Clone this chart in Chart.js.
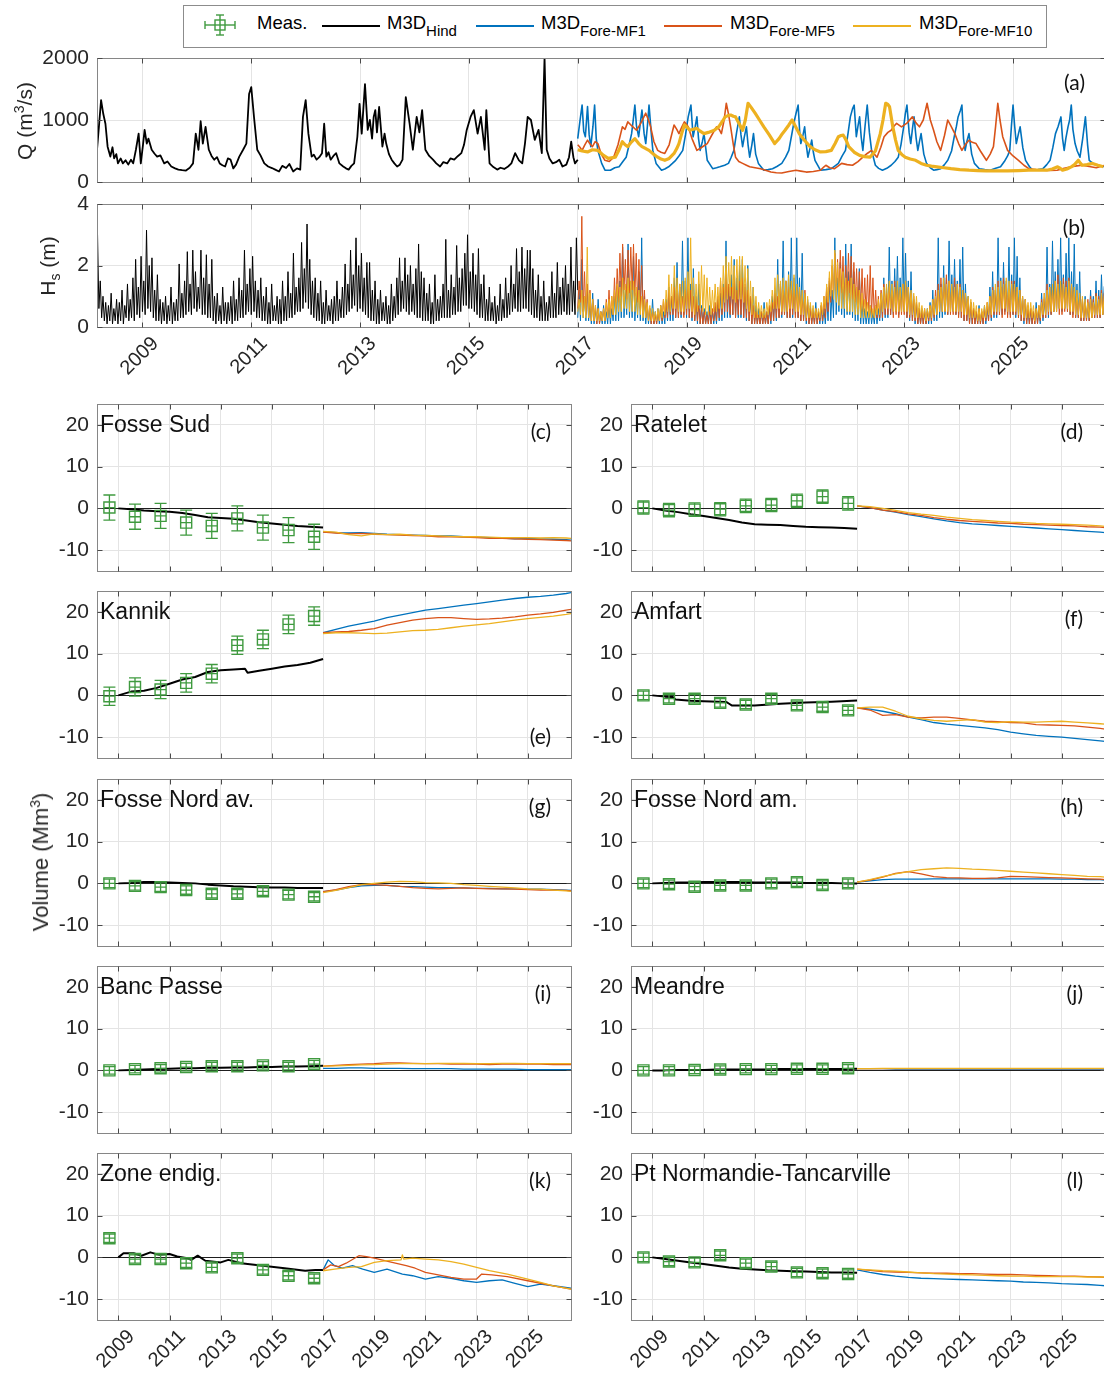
<!DOCTYPE html>
<html><head><meta charset="utf-8">
<script src="https://cdn.jsdelivr.net/npm/chart.js@4.4.1/dist/chart.umd.min.js"></script>
<style>
html,body{margin:0;padding:0;background:#fff;width:1104px;height:1373px;overflow:hidden;font-family:"Liberation Sans",Arial,sans-serif;color:#000}
.vt{position:absolute;transform:translate(-50%,-50%) rotate(-90deg);white-space:nowrap;color:#262626;font-size:21px}
.vt sup{font-size:14px;vertical-align:8px;line-height:0}
.vt sub{font-size:14px;vertical-align:-5px;line-height:0}
#legend{position:absolute;left:183px;top:5px;width:862px;height:41px;border:1.5px solid #8c8c8c;background:#fff}
.lg-line{position:absolute;height:2px;top:25px}
.lg-txt{position:absolute;top:13px;font-size:18.5px;line-height:20px;white-space:nowrap}
.lg-txt sub{font-size:15px;vertical-align:-7px;line-height:0}
.panel{position:absolute}
</style></head><body>

<div id="legend"></div>
<svg style="position:absolute;left:203px;top:13px" width="34" height="25">
  <g stroke="#3f9a3f" stroke-width="1.4" fill="none">
    <line x1="2" y1="12" x2="32" y2="12"/><line x1="2" y1="8" x2="2" y2="16"/><line x1="32" y1="8" x2="32" y2="16"/>
    <line x1="17" y1="2" x2="17" y2="22"/><line x1="13" y1="2" x2="21" y2="2"/><line x1="13" y1="22" x2="21" y2="22"/>
    <rect x="12" y="7" width="10" height="10"/>
  </g>
</svg>
<div class="lg-txt" style="left:257px">Meas.</div>
<div class="lg-line" style="left:322px;width:58px;background:#000"></div>
<div class="lg-txt" style="left:387px">M3D<sub>Hind</sub></div>
<div class="lg-line" style="left:476px;width:58px;background:#0072BD"></div>
<div class="lg-txt" style="left:541px">M3D<sub>Fore-MF1</sub></div>
<div class="lg-line" style="left:664px;width:58px;background:#D95319"></div>
<div class="lg-txt" style="left:730px">M3D<sub>Fore-MF5</sub></div>
<div class="lg-line" style="left:853px;width:58px;background:#EDB120"></div>
<div class="lg-txt" style="left:919px">M3D<sub>Fore-MF10</sub></div>

<script>
// ---------- axes ----------
const X_MIN = 2008.165, X_MAX = 2026.69;
const YEAR_TICKS = [2009, 2011, 2013, 2015, 2017, 2019, 2021, 2023, 2025];
const VOL_TICKS = [-10, 0, 10, 20];
const Q_TICKS = [0, 1000, 2000];
const HS_TICKS = [0, 2, 4];

// ---------- river discharge Q (m3/s): [year, value] ----------
const Q_HIND = [[2008.16,465],[2008.20,890],[2008.24,1320],[2008.28,1100],[2008.32,940],[2008.36,570],[2008.41,410],[2008.45,560],[2008.48,380],[2008.52,450],
[2008.55,300],[2008.60,380],[2008.64,300],[2008.69,350],[2008.74,280],[2008.79,360],[2008.83,300],[2008.88,520],[2008.93,780],[2008.97,300],
[2009.01,600],[2009.04,840],[2009.08,620],[2009.11,700],[2009.17,520],[2009.22,460],[2009.27,410],[2009.33,430],[2009.40,300],[2009.46,330],
[2009.53,250],[2009.60,220],[2009.66,200],[2009.73,190],[2009.80,185],[2009.87,230],[2009.93,300],[2009.98,780],[2010.03,520],[2010.07,980],
[2010.11,620],[2010.16,890],[2010.22,520],[2010.27,420],[2010.32,360],[2010.37,400],[2010.42,300],[2010.47,270],[2010.52,250],[2010.57,380],
[2010.62,360],[2010.67,220],[2010.72,280],[2010.78,410],[2010.85,520],[2010.91,620],[2010.96,1420],[2011.00,1530],[2011.05,1050],[2011.11,520],
[2011.17,430],[2011.24,300],[2011.31,250],[2011.38,225],[2011.44,200],[2011.51,170],[2011.57,260],[2011.64,225],[2011.70,290],[2011.77,170],
[2011.84,220],[2011.90,200],[2011.95,1050],[2012.00,1320],[2012.05,780],[2012.11,410],[2012.15,440],[2012.20,360],[2012.25,400],[2012.30,465],
[2012.34,940],[2012.38,410],[2012.42,480],[2012.46,360],[2012.51,420],[2012.56,465],[2012.62,300],[2012.69,250],[2012.74,220],[2012.79,200],
[2012.84,260],[2012.89,300],[2012.95,730],[2012.99,1260],[2013.03,780],[2013.09,1580],[2013.14,840],[2013.18,1000],[2013.22,700],[2013.25,1050],
[2013.28,1160],[2013.31,800],[2013.35,1210],[2013.41,570],[2013.45,780],[2013.48,620],[2013.53,450],[2013.58,360],[2013.63,300],[2013.68,250],
[2013.73,280],[2013.78,360],[2013.84,1370],[2013.91,940],[2013.97,520],[2014.04,1050],[2014.09,800],[2014.14,1160],[2014.20,520],[2014.27,420],
[2014.34,360],[2014.40,300],[2014.47,250],[2014.53,320],[2014.60,300],[2014.66,380],[2014.73,360],[2014.80,420],[2014.86,465],[2014.91,600],
[2014.96,840],[2015.03,1050],[2015.09,1160],[2015.16,780],[2015.22,1050],[2015.29,520],[2015.32,1160],[2015.38,300],[2015.45,240],[2015.52,200],
[2015.58,230],[2015.65,210],[2015.72,250],[2015.78,300],[2015.85,465],[2015.92,350],[2015.98,300],[2016.03,620],[2016.08,1050],[2016.14,1000],
[2016.21,680],[2016.28,840],[2016.34,465],[2016.39,2000],[2016.43,520],[2016.48,380],[2016.54,300],[2016.60,320],[2016.66,360],[2016.72,250],
[2016.79,280],[2016.84,400],[2016.88,650],[2016.92,400],[2016.95,300],[2017.00,360]];

const Q_MF1 = [[2017.00,700],[2017.04,980],[2017.08,1240],[2017.11,820],[2017.14,730],[2017.18,1215],[2017.21,760],[2017.24,570],[2017.28,900],[2017.31,1240],
[2017.34,700],[2017.37,510],[2017.44,300],[2017.50,190],[2017.60,190],[2017.68,230],[2017.76,245],[2017.83,330],[2017.89,400],[2017.95,620],
[2017.99,780],[2018.02,1000],[2018.05,1240],[2018.08,900],[2018.12,730],[2018.15,950],[2018.18,1160],[2018.22,780],[2018.25,620],[2018.28,900],
[2018.31,1240],[2018.35,800],[2018.38,510],[2018.44,300],[2018.54,190],[2018.60,210],[2018.67,245],[2018.74,300],[2018.80,350],[2018.86,420],
[2018.93,510],[2018.98,760],[2019.03,1050],[2019.08,1240],[2019.12,730],[2019.16,900],[2019.19,1050],[2019.22,700],[2019.25,510],[2019.29,650],
[2019.32,780],[2019.38,350],[2019.48,215],[2019.55,230],[2019.61,245],[2019.70,270],[2019.77,300],[2019.82,400],[2019.87,510],[2019.92,800],
[2019.97,1050],[2020.00,760],[2020.03,570],[2020.06,720],[2020.10,890],[2020.13,600],[2020.16,400],[2020.20,600],[2020.23,780],[2020.27,450],
[2020.32,300],[2020.42,190],[2020.50,200],[2020.58,215],[2020.66,250],[2020.75,300],[2020.82,400],[2020.88,510],[2020.93,750],[2020.97,945],
[2021.01,1100],[2021.05,1240],[2021.08,800],[2021.10,620],[2021.14,760],[2021.17,890],[2021.20,600],[2021.23,400],[2021.27,550],[2021.30,675],
[2021.33,480],[2021.36,350],[2021.46,190],[2021.56,200],[2021.66,215],[2021.73,260],[2021.79,300],[2021.86,420],[2021.92,510],[2021.97,800],
[2022.01,1050],[2022.05,1180],[2022.08,1240],[2022.12,730],[2022.15,900],[2022.18,1050],[2022.21,720],[2022.24,510],[2022.28,900],[2022.32,1240],
[2022.36,800],[2022.40,510],[2022.47,270],[2022.53,220],[2022.60,190],[2022.68,220],[2022.76,270],[2022.83,330],[2022.89,400],[2022.94,600],
[2022.99,890],[2023.02,1100],[2023.05,1240],[2023.09,800],[2023.12,620],[2023.15,850],[2023.18,1050],[2023.22,700],[2023.25,510],[2023.28,650],
[2023.31,780],[2023.36,450],[2023.41,300],[2023.48,230],[2023.54,190],[2023.60,200],[2023.67,215],[2023.74,280],[2023.80,350],[2023.87,500],
[2023.93,780],[2023.96,900],[2023.99,1050],[2024.03,1150],[2024.06,1240],[2024.09,700],[2024.12,510],[2024.15,650],[2024.19,780],[2024.24,450],
[2024.29,300],[2024.38,215],[2024.48,200],[2024.58,190],[2024.68,220],[2024.77,245],[2024.84,330],[2024.90,420],[2024.94,510],[2024.97,900],
[2025.00,1240],[2025.03,900],[2025.06,620],[2025.10,780],[2025.13,890],[2025.18,550],[2025.23,350],[2025.30,250],[2025.36,190],[2025.46,200],
[2025.55,215],[2025.62,280],[2025.68,350],[2025.73,550],[2025.78,780],[2025.83,900],[2025.88,1050],[2025.91,700],[2025.94,510],[2025.97,700],
[2026.01,890],[2026.04,1000],[2026.07,1240],[2026.10,850],[2026.14,620],[2026.18,500],[2026.23,400],[2026.28,700],[2026.33,1050],[2026.37,600],
[2026.40,350],[2026.47,300],[2026.53,270],[2026.60,260],[2026.69,245]];

const Q_MF5 = [[2017.00,600],[2017.04,560],[2017.08,510],[2017.13,600],[2017.18,675],[2017.22,620],[2017.27,570],[2017.32,650],[2017.37,620],[2017.43,450],
[2017.50,350],[2017.58,330],[2017.66,400],[2017.74,600],[2017.82,890],[2017.87,850],[2017.92,970],[2018.00,900],[2018.08,835],[2018.16,950],
[2018.25,1110],[2018.30,1000],[2018.34,890],[2018.40,650],[2018.47,510],[2018.53,480],[2018.60,460],[2018.68,600],[2018.77,920],[2018.82,850],
[2018.86,780],[2018.91,880],[2018.96,970],[2019.03,890],[2019.10,700],[2019.19,510],[2019.28,560],[2019.38,620],[2019.46,750],[2019.55,890],
[2019.60,850],[2019.64,780],[2019.69,1000],[2019.73,1270],[2019.77,1100],[2019.81,890],[2019.86,600],[2019.90,400],[2019.96,330],[2020.03,300],
[2020.10,270],[2020.16,245],[2020.26,230],[2020.36,215],[2020.45,190],[2020.55,160],[2020.65,150],[2020.75,145],[2020.88,170],[2021.01,190],
[2021.10,175],[2021.20,160],[2021.33,170],[2021.46,190],[2021.52,240],[2021.56,270],[2021.63,230],[2021.72,215],[2021.79,260],[2021.85,300],
[2021.95,280],[2022.05,270],[2022.15,330],[2022.24,400],[2022.32,460],[2022.40,510],[2022.45,450],[2022.50,400],[2022.57,560],[2022.63,730],
[2022.70,800],[2022.76,835],[2022.81,900],[2022.86,945],[2022.95,890],[2023.05,950],[2023.15,1050],[2023.22,950],[2023.28,890],[2023.35,1000],
[2023.42,1270],[2023.48,1000],[2023.54,835],[2023.60,650],[2023.67,510],[2023.74,750],[2023.80,1000],[2023.86,900],[2023.93,780],[2024.00,620],
[2024.06,510],[2024.12,600],[2024.19,675],[2024.25,640],[2024.32,620],[2024.40,500],[2024.51,350],[2024.58,450],[2024.64,570],[2024.68,900],
[2024.72,1270],[2024.76,1000],[2024.81,730],[2024.90,510],[2025.00,420],[2025.10,350],[2025.20,270],[2025.29,215],[2025.42,200],[2025.55,190],
[2025.68,185],[2025.81,190],[2025.94,220],[2026.07,245],[2026.17,260],[2026.27,270],[2026.40,250],[2026.53,230],[2026.69,270]];

const Q_MF10 = [[2017.00,520],[2017.08,500],[2017.18,485],[2017.27,520],[2017.37,510],[2017.46,440],[2017.56,380],[2017.62,390],[2017.69,400],[2017.76,520],
[2017.82,650],[2017.87,600],[2017.92,570],[2017.98,640],[2018.05,700],[2018.12,620],[2018.18,570],[2018.25,540],[2018.31,510],[2018.39,450],
[2018.47,400],[2018.53,370],[2018.60,350],[2018.68,380],[2018.77,460],[2018.82,540],[2018.86,620],[2018.91,780],[2018.96,920],[2019.01,880],
[2019.06,835],[2019.12,850],[2019.19,865],[2019.25,820],[2019.32,780],[2019.40,800],[2019.51,835],[2019.60,900],[2019.66,980],[2019.71,1050],
[2019.76,1070],[2019.81,1080],[2019.86,1060],[2019.90,1050],[2019.96,950],[2020.03,835],[2020.08,1000],[2020.13,1270],[2020.19,1200],[2020.26,1110],
[2020.34,1000],[2020.42,890],[2020.52,760],[2020.62,620],[2020.70,700],[2020.76,780],[2020.81,835],[2020.88,920],[2020.94,1000],[2021.00,900],
[2021.07,780],[2021.17,670],[2021.27,570],[2021.36,520],[2021.46,485],[2021.56,490],[2021.66,510],[2021.73,620],[2021.79,730],[2021.84,750],
[2021.88,755],[2021.93,680],[2021.98,570],[2022.08,480],[2022.18,430],[2022.27,410],[2022.37,400],[2022.47,500],[2022.56,780],[2022.61,1000],
[2022.66,1270],[2022.70,1250],[2022.73,1215],[2022.79,890],[2022.84,680],[2022.89,510],[2022.96,440],[2023.02,400],[2023.11,370],[2023.21,350],
[2023.31,300],[2023.41,270],[2023.50,255],[2023.60,245],[2023.73,230],[2023.86,215],[2024.02,200],[2024.19,190],[2024.35,185],[2024.51,180],
[2024.70,180],[2024.90,180],[2025.10,185],[2025.29,190],[2025.45,190],[2025.62,190],[2025.72,210],[2025.82,245],[2025.87,220],[2025.91,190],
[2025.99,210],[2026.07,245],[2026.13,280],[2026.20,350],[2026.24,300],[2026.27,270],[2026.36,280],[2026.46,300],[2026.56,270],[2026.66,245]];

// ---------- significant wave height Hs (m), sampled every HS_STEP years ----------
const HS_STEP = 0.025;
const HS_HIND_START = 2008.15;
const HS_HIND = [
1.8,3.0,0.6,1.5,0.3,1.0,0.2,0.8,0.1,0.7,0.2,1.1,0.1,0.6,0.2,0.9,0.1,0.8,0.2,1.2,0.1,0.7,0.3,1.4,0.2,0.9,0.3,1.6,0.2,2.2,0.4,1.3,0.3,2.3,0.5,1.5,0.4,3.15,0.6,2.0,
0.5,2.25,0.3,1.2,0.2,1.7,0.2,0.9,0.1,0.8,0.2,1.0,0.1,0.7,0.2,1.3,0.1,0.8,0.2,0.9,0.2,2.05,0.3,1.1,0.3,1.5,0.4,2.45,0.5,1.4,0.4,2.5,0.6,1.8,0.5,1.3,0.6,2.5,0.4,1.6,
0.4,2.35,0.3,1.4,0.3,2.2,0.2,1.0,0.1,1.1,0.2,0.7,0.1,1.3,0.2,0.8,0.1,0.8,0.2,1.0,0.1,1.5,0.2,0.9,0.2,1.6,0.3,1.2,0.3,2.5,0.4,1.4,0.5,1.9,0.4,2.3,0.5,1.5,0.3,1.2,
0.3,1.6,0.2,1.0,0.2,1.3,0.1,0.8,0.1,1.4,0.2,0.7,0.2,1.0,0.1,0.9,0.1,1.5,0.2,1.0,0.2,1.8,0.3,1.1,0.3,2.4,0.4,1.3,0.5,1.6,0.5,2.75,0.6,1.9,0.8,3.35,0.6,2.2,0.4,1.5,
0.3,1.6,0.2,1.1,0.2,1.5,0.1,0.8,0.1,1.2,0.2,0.7,0.2,0.9,0.1,1.0,0.2,1.5,0.2,0.9,0.3,1.3,0.3,2.05,0.4,1.4,0.5,2.5,0.6,1.7,0.7,2.9,0.5,2.0,0.6,2.4,0.5,1.6,0.4,2.1,
0.3,2.1,0.2,1.2,0.2,1.5,0.1,0.9,0.1,1.2,0.2,0.8,0.2,1.0,0.1,0.7,0.1,1.4,0.2,1.0,0.3,1.6,0.4,2.25,0.5,1.5,0.6,2.25,0.5,1.7,0.4,2.0,0.5,1.4,0.4,1.9,0.3,2.7,0.3,1.8,
0.2,1.6,0.2,1.1,0.2,1.4,0.1,0.8,0.1,1.7,0.2,0.9,0.2,1.0,0.3,1.4,0.3,2.85,0.3,1.2,0.3,1.7,0.4,1.3,0.4,2.65,0.5,1.6,0.5,1.9,0.7,2.4,0.7,3.0,0.6,1.8,0.6,2.4,0.5,1.7,
0.4,2.55,0.3,1.4,0.3,1.7,0.2,0.9,0.2,1.3,0.2,0.8,0.2,1.0,0.1,0.7,0.2,1.4,0.2,0.9,0.3,1.6,0.3,1.1,0.4,2.0,0.5,1.4,0.6,2.55,0.5,1.8,0.5,2.6,0.6,1.9,0.6,2.5,0.5,2.5,
0.4,1.9,0.3,1.2,0.3,1.7,0.2,1.0,0.2,1.5,0.2,0.8,0.2,1.0,0.3,1.8,0.3,1.1,0.3,2.1,0.4,1.3,0.4,1.6,0.5,2.0,0.4,1.4,0.4,2.6,0.5,1.5,0.4,2.9,1.2];
const HS_FORE_START = 2017.0;
const HS_MF1 = [
0.3,1.2,0.2,2.2,0.3,1.0,0.2,1.4,0.2,0.8,0.1,1.1,0.1,0.6,0.1,0.9,0.1,0.5,0.1,0.7,0.1,0.5,0.1,0.8,0.1,0.6,0.2,1.0,0.2,1.3,0.2,1.5,0.3,2.6,0.3,1.2,0.4,2.7,0.3,1.5,
0.3,2.3,0.2,1.1,0.3,1.8,0.2,2.9,0.2,1.0,0.1,0.8,0.1,0.6,0.1,0.9,0.1,0.5,0.1,0.6,0.1,0.7,0.1,0.5,0.1,0.9,0.2,1.3,0.2,1.0,0.2,1.6,0.3,2.1,0.3,1.3,0.3,2.8,0.4,1.5,
0.3,2.9,0.3,1.4,0.2,1.9,0.2,1.0,0.1,1.4,0.1,0.7,0.1,0.6,0.1,0.5,0.1,0.7,0.1,0.5,0.1,0.6,0.1,0.9,0.2,1.1,0.2,1.4,0.3,2.8,0.3,1.3,0.3,1.7,0.4,2.2,0.3,1.6,0.3,2.0,
0.3,2.2,0.3,1.3,0.2,2.0,0.2,1.0,0.1,1.3,0.1,0.7,0.1,0.6,0.1,0.5,0.1,0.8,0.1,0.5,0.1,0.6,0.1,1.0,0.2,1.2,0.2,2.2,0.3,1.4,0.3,2.8,0.4,1.5,0.3,1.8,0.3,2.9,0.3,1.6,
0.4,2.9,0.3,1.6,0.2,2.4,0.2,1.1,0.1,0.9,0.1,0.7,0.1,0.6,0.1,0.8,0.1,0.5,0.1,0.7,0.1,0.6,0.1,1.0,0.2,1.5,0.2,1.2,0.3,2.9,0.4,1.6,0.5,2.1,0.4,1.7,0.3,2.7,0.4,1.8,
0.4,2.7,0.3,1.8,0.2,1.3,0.2,1.9,0.1,0.8,0.1,0.6,0.1,0.5,0.1,0.7,0.1,0.5,0.1,0.7,0.1,0.6,0.2,1.1,0.2,1.6,0.3,1.3,0.3,2.6,0.4,1.5,0.4,1.9,0.5,2.3,0.4,1.6,0.5,2.9,
0.5,2.4,0.3,1.5,0.2,1.8,0.2,0.9,0.1,0.8,0.1,0.6,0.1,0.6,0.1,0.5,0.1,0.6,0.1,0.8,0.1,1.2,0.2,1.0,0.2,2.9,0.3,1.4,0.3,2.0,0.4,1.6,0.4,2.8,0.5,1.7,0.5,2.2,0.4,1.5,
0.4,2.2,0.3,2.6,0.2,1.4,0.2,1.0,0.1,0.8,0.1,0.6,0.1,0.5,0.1,0.7,0.1,0.5,0.1,0.7,0.1,0.6,0.2,1.3,0.2,1.8,0.3,1.2,0.3,2.9,0.4,1.6,0.4,2.1,0.5,1.5,0.4,2.6,0.4,1.7,
0.4,2.9,0.3,2.3,0.3,1.6,0.2,1.0,0.1,0.9,0.1,0.6,0.1,0.6,0.1,0.5,0.1,0.8,0.1,0.6,0.1,1.1,0.2,0.9,0.3,2.6,0.3,1.4,0.4,2.8,0.5,1.8,0.5,2.2,0.6,2.9,0.5,1.7,0.6,2.4,
0.5,2.9,0.4,1.8,0.4,2.7,0.3,1.4,0.3,1.8,0.2,0.9,0.2,1.0,0.2,0.8,0.2,1.2,0.3,1.0,0.3,1.5,0.3,1.2,0.3,1.7,0.4,1.3,1.5];
const HS_MF5 = [
0.6,1.5,0.8,3.6,0.5,1.8,0.4,1.4,0.3,1.2,0.2,0.9,0.2,0.7,0.1,0.6,0.1,0.5,0.2,0.6,0.2,0.9,0.3,1.2,0.3,1.0,0.4,1.6,0.6,1.9,0.8,2.4,1.0,2.7,1.2,2.2,0.9,2.5,1.1,2.6,
1.2,2.7,1.0,2.4,0.8,2.2,0.6,2.0,0.4,1.2,0.3,0.9,0.2,0.6,0.1,0.5,0.1,0.4,0.1,0.5,0.2,0.7,0.2,0.9,0.3,0.8,0.3,1.2,0.4,1.0,0.4,1.3,0.3,1.1,0.3,1.4,0.4,1.0,0.3,1.2,
0.4,1.4,0.3,1.2,0.3,1.0,0.2,0.9,0.2,0.7,0.1,0.6,0.1,0.5,0.1,0.4,0.1,0.5,0.1,0.6,0.2,0.8,0.2,1.0,0.3,1.5,0.4,1.3,0.5,1.8,0.5,1.4,0.4,1.3,0.4,1.6,0.3,1.2,0.4,1.5,
0.4,1.6,0.3,1.4,0.3,1.2,0.2,1.0,0.1,0.7,0.1,0.5,0.1,0.4,0.1,0.5,0.1,0.4,0.1,0.5,0.1,0.7,0.2,0.8,0.2,1.1,0.3,1.0,0.3,1.4,0.4,1.2,0.4,1.5,0.3,1.3,0.3,1.2,0.4,1.4,
0.3,1.3,0.3,1.2,0.2,1.0,0.2,1.2,0.2,0.8,0.1,0.6,0.1,0.5,0.1,0.6,0.1,0.5,0.2,0.7,0.2,1.0,0.3,1.3,0.5,1.6,0.8,2.0,1.0,2.4,1.2,2.2,1.0,2.5,1.1,2.3,0.9,2.0,1.0,2.4,
1.1,2.3,0.9,2.1,0.8,1.9,0.6,1.8,0.5,1.9,0.5,1.6,0.4,1.7,0.4,2.0,0.4,1.6,0.3,1.2,0.3,1.0,0.3,1.2,0.3,1.4,0.4,1.1,0.4,1.3,0.4,1.2,0.3,1.5,0.4,1.3,0.3,1.2,0.4,1.4,
0.4,1.5,0.3,1.3,0.3,1.1,0.2,1.0,0.2,0.8,0.1,0.6,0.1,0.5,0.1,0.6,0.1,0.5,0.2,0.7,0.2,0.9,0.3,1.2,0.4,1.4,0.5,1.6,0.5,1.4,0.5,1.7,0.4,1.5,0.4,1.3,0.4,1.6,0.4,1.4,
0.3,1.4,0.3,1.2,0.2,1.1,0.2,0.9,0.1,0.8,0.1,0.6,0.1,0.5,0.1,0.6,0.1,0.5,0.1,0.6,0.2,0.8,0.2,1.0,0.3,1.3,0.4,1.2,0.4,1.5,0.4,1.3,0.3,1.6,0.4,1.4,0.3,1.2,0.3,1.5,
0.4,1.5,0.4,1.3,0.3,1.2,0.2,1.0,0.2,0.9,0.1,0.7,0.1,0.6,0.1,0.5,0.1,0.6,0.1,0.7,0.2,0.9,0.3,1.1,0.3,1.4,0.4,1.3,0.4,1.2,0.5,1.5,0.5,1.7,0.4,1.4,0.4,1.6,0.5,1.5,
0.5,1.6,0.4,1.4,0.3,1.2,0.3,1.1,0.3,1.0,0.2,0.9,0.2,0.8,0.2,0.9,0.2,1.0,0.3,0.9,0.3,1.1,0.3,1.0,0.3,1.2,0.4,1.1,1.2];
const HS_MF10 = [
0.5,0.9,0.4,1.2,0.3,1.0,0.3,2.6,0.3,1.1,0.2,0.9,0.2,0.7,0.2,0.6,0.2,0.5,0.2,0.6,0.2,0.8,0.3,0.9,0.3,1.0,0.4,1.2,0.4,1.4,0.5,1.3,0.5,1.6,0.6,1.4,0.6,1.6,0.5,1.5,
0.5,1.5,0.5,1.3,0.4,1.2,0.4,1.0,0.3,0.9,0.3,0.8,0.2,0.7,0.2,0.6,0.2,0.5,0.2,0.6,0.2,0.7,0.3,0.9,0.4,1.2,0.5,1.7,0.5,1.4,0.6,2.0,0.6,1.6,0.5,1.4,0.5,1.5,0.5,1.6,
0.6,1.8,0.6,2.9,0.5,1.6,0.4,1.4,0.5,1.8,0.6,2.0,0.5,1.7,0.4,1.6,0.4,1.3,0.4,1.2,0.5,1.4,0.5,1.3,0.6,1.6,0.6,2.0,0.8,2.3,0.9,2.1,1.0,2.3,0.9,2.0,0.8,2.2,0.9,2.3,
0.9,2.3,0.8,2.0,0.6,1.9,0.5,1.5,0.4,1.3,0.3,1.0,0.3,0.8,0.3,0.7,0.3,0.6,0.3,0.8,0.4,0.9,0.5,1.2,0.6,1.6,0.6,1.7,0.6,1.5,0.5,1.6,0.5,1.5,0.5,1.7,0.6,1.5,0.6,1.7,
0.5,1.4,0.5,1.3,0.4,1.2,0.4,1.1,0.3,1.0,0.3,0.8,0.3,0.7,0.3,0.6,0.3,0.6,0.3,0.8,0.4,1.0,0.6,1.4,0.8,1.8,1.0,2.2,0.9,2.5,0.8,2.1,0.7,1.9,0.6,1.8,0.6,1.6,0.5,1.5,
0.5,1.6,0.5,1.4,0.4,1.3,0.4,1.2,0.3,1.1,0.3,0.9,0.3,0.8,0.3,0.7,0.3,0.6,0.3,0.7,0.4,0.9,0.4,1.1,0.5,1.3,0.6,1.4,0.6,1.5,0.6,1.4,0.5,1.3,0.5,1.5,0.5,1.3,0.5,1.4,
0.5,1.5,0.5,1.3,0.4,1.2,0.4,1.1,0.3,1.0,0.3,0.8,0.3,0.7,0.3,0.6,0.2,0.6,0.3,0.7,0.3,0.9,0.4,1.0,0.4,1.2,0.5,1.3,0.5,1.6,0.5,1.4,0.5,1.5,0.5,1.4,0.5,1.3,0.5,1.4,
0.5,1.3,0.5,1.2,0.4,1.1,0.4,1.0,0.3,0.9,0.3,0.8,0.3,0.7,0.2,0.6,0.2,0.6,0.3,0.7,0.3,0.8,0.4,1.0,0.4,1.2,0.5,1.4,0.5,1.3,0.5,1.5,0.6,1.4,0.6,1.6,0.5,1.5,0.5,1.4,
0.5,1.4,0.5,1.3,0.4,1.2,0.4,1.0,0.3,0.9,0.3,0.8,0.3,0.8,0.3,0.7,0.2,0.6,0.3,0.7,0.3,0.8,0.4,1.1,0.4,1.2,0.5,1.3,0.5,1.4,0.5,1.5,0.5,1.4,0.6,1.5,0.6,1.4,0.6,1.3,
0.6,1.5,0.5,1.4,0.5,1.3,0.4,1.2,0.4,1.1,0.3,1.0,0.3,0.9,0.3,0.8,0.3,0.9,0.3,0.8,0.4,1.0,0.4,0.9,0.4,1.1,0.4,1.0,1.2];

// ---------- sediment volume change (Mm3) ----------
const MEAS_T = [2008.65, 2009.65, 2010.65, 2011.65, 2012.65, 2013.65, 2014.65, 2015.65, 2016.65];
const HIND_T = [2009,2009.5,2010,2010.5,2011,2011.5,2012,2012.5,2013,2013.5,2014,2014.5,2015,2015.5,2016,2016.5,2017];
const FORE_T = [2017,2017.5,2018,2018.5,2019,2019.5,2020,2020.5,2021,2021.5,2022,2022.5,2023,2023.5,2024,2024.5,2025,2025.5,2026,2026.5,2026.7];

const FOSSE_SUD_MEAS = [0.2,-2.0,-1.8,-3.4,-4.2,-2.4,-4.6,-5.2,-6.8];
const FOSSE_SUD_HIND = [0,-0.2,-0.5,-0.7,-0.8,-1.1,-1.6,-2.1,-2.3,-2.5,-2.9,-3.3,-3.6,-3.9,-4.2,-4.4,-4.6];
const FOSSE_SUD_MF1 = [-5.6,-5.8,-5.9,-5.8,-6.0,-6.2,-6.3,-6.4,-6.5,-6.6,-6.6,-6.8,-6.9,-7.0,-7.1,-7.3,-7.2,-7.3,-7.4,-7.5,-7.6];
const FOSSE_SUD_MF5 = [-5.7,-5.9,-6.1,-6.0,-6.2,-6.3,-6.4,-6.5,-6.6,-6.8,-6.8,-6.9,-7.0,-7.2,-7.2,-7.3,-7.4,-7.5,-7.6,-7.7,-7.8];
const FOSSE_SUD_MF10 = [-5.5,-5.7,-6.3,-6.6,-6.1,-6.3,-6.2,-6.4,-6.5,-6.6,-6.7,-6.8,-6.8,-6.9,-7.0,-7.0,-7.0,-7.1,-7.0,-7.1,-7.2];

const RATELET_MEAS = [0.2,-0.4,-0.3,-0.2,0.6,0.8,1.8,2.8,1.2];
const RATELET_HIND = [0,-0.5,-0.9,-1.4,-1.8,-2.3,-2.8,-3.4,-3.8,-3.9,-4.0,-4.2,-4.4,-4.5,-4.6,-4.7,-4.9];
const RATELET_MF1 = [0.6,0.2,-0.4,-0.9,-1.5,-2.0,-2.5,-3.0,-3.4,-3.7,-3.9,-4.1,-4.3,-4.5,-4.7,-4.9,-5.1,-5.3,-5.5,-5.7,-5.8];
const RATELET_MF5 = [0.6,0.2,-0.4,-0.8,-1.3,-1.7,-2.2,-2.6,-2.9,-3.1,-3.3,-3.5,-3.6,-3.8,-3.9,-4.0,-4.1,-4.2,-4.4,-4.5,-4.6];
const RATELET_MF10 = [0.6,0.4,0.0,-0.5,-1.0,-1.4,-1.7,-2.1,-2.4,-2.7,-2.9,-3.1,-3.3,-3.4,-3.6,-3.7,-3.8,-3.9,-4.0,-4.2,-4.3];

const KANNIK_MEAS = [-0.2,2.0,1.4,3.0,5.2,12.0,13.4,17.0,19.0];
const KANNIK_HIND = [[2009.0,0],[2009.5,0.9],[2010.0,1.1],[2010.5,1.8],[2011.0,2.8],[2011.5,3.8],[2012.0,4.4],[2012.5,5.6],[2013.0,6.0],[2013.5,6.2],[2013.95,6.4],[2014.05,5.4],[2014.5,5.9],[2015.0,6.4],[2015.5,6.9],[2016.0,7.3],[2016.5,7.8],[2017.0,8.7]];
const KANNIK_MF1 = [15.0,15.8,16.6,17.2,17.8,18.6,19.2,19.8,20.4,20.8,21.2,21.6,22.0,22.4,22.8,23.2,23.5,23.7,24.0,24.4,24.6];
const KANNIK_MF5 = [15.0,15.2,15.3,15.6,16.0,16.8,17.4,18.0,18.4,18.6,18.6,18.4,18.2,18.3,18.5,18.8,19.2,19.5,19.9,20.4,20.6];
const KANNIK_MF10 = [14.8,15.0,15.0,14.9,14.8,14.9,15.2,15.5,15.6,15.8,16.2,16.6,16.9,17.2,17.6,18.0,18.4,18.7,19.0,19.4,19.6];

const AMFART_MEAS = [0,-0.8,-0.8,-1.8,-2.2,-0.8,-2.4,-2.8,-3.6];
const AMFART_HIND = [[2009.0,0],[2009.5,-0.3],[2009.8,-0.4],[2009.9,-1.0],[2010.5,-1.3],[2011.0,-1.4],[2011.9,-1.6],[2012.0,-2.0],[2012.1,-2.4],[2013.0,-2.4],[2014.0,-2.0],[2015.0,-1.7],[2016.0,-1.5],[2017.0,-1.2]];
const AMFART_MF1 = [-3.0,-3.3,-3.8,-4.4,-5.2,-5.8,-6.5,-6.9,-7.2,-7.5,-7.8,-8.2,-8.8,-9.2,-9.6,-9.8,-10.0,-10.3,-10.6,-10.9,-11.0];
const AMFART_MF5 = [-3.0,-3.5,-4.8,-4.6,-5.2,-5.4,-5.2,-5.2,-5.5,-5.9,-6.2,-6.3,-6.5,-6.6,-7.0,-7.1,-7.2,-7.3,-7.6,-7.9,-8.1];
const AMFART_MF10 = [-3.0,-2.8,-2.8,-3.8,-5.0,-5.6,-6.0,-6.2,-6.0,-5.8,-6.4,-6.5,-6.3,-6.4,-6.4,-6.3,-6.2,-6.4,-6.6,-6.8,-6.9];

const FN_AV_MEAS = [0,-0.6,-0.9,-1.6,-2.5,-2.5,-1.9,-2.7,-3.2];
const FN_AV_HIND = [0,0.1,0.3,0.3,0.2,0.1,0.0,-0.3,-0.5,-0.7,-0.8,-0.9,-1.0,-1.0,-1.1,-1.1,-1.1];
const FN_AV_MF1 = [-2.0,-1.6,-1.0,-0.6,-0.5,-0.5,-0.7,-0.8,-0.9,-1.0,-1.0,-1.1,-1.2,-1.2,-1.3,-1.3,-1.4,-1.4,-1.5,-1.6,-1.7];
const FN_AV_MF5 = [-2.0,-1.5,-0.8,-0.3,-0.3,-0.5,-0.7,-1.0,-1.2,-1.3,-1.2,-1.1,-1.2,-1.3,-1.3,-1.4,-1.5,-1.6,-1.6,-1.7,-1.8];
const FN_AV_MF10 = [-2.2,-1.7,-1.0,-0.3,0.0,0.3,0.5,0.4,0.2,0.1,0.0,-0.3,-0.5,-0.7,-0.9,-1.1,-1.3,-1.4,-1.6,-1.8,-1.9];

const FN_AM_MEAS = [0,-0.2,-0.8,-0.5,-0.5,0,0.3,-0.4,0];
const FN_AM_HIND = [0,0.1,0.2,0.2,0.3,0.3,0.3,0.3,0.2,0.2,0.2,0.2,0.1,0.1,0.1,0.0,0.0];
const FN_AM_MF1 = [0.3,0.6,0.9,1.0,1.0,1.0,1.1,1.1,1.1,1.1,1.1,1.1,1.1,1.1,1.1,1.1,1.0,1.0,0.9,0.9,0.8];
const FN_AM_MF5 = [0.3,0.8,1.5,2.4,2.8,2.3,1.6,1.4,1.3,1.2,1.2,1.3,1.7,1.6,1.5,1.4,1.3,1.2,1.1,1.0,0.9];
const FN_AM_MF10 = [0.3,0.9,1.6,2.3,2.8,3.3,3.5,3.7,3.6,3.4,3.3,3.1,2.9,2.7,2.5,2.3,2.1,1.9,1.7,1.6,1.5];

const BANC_MEAS = [0,0.3,0.5,0.8,1.0,1.0,1.2,1.0,1.5];
const BANC_HIND = [0,0.1,0.2,0.3,0.4,0.5,0.5,0.6,0.6,0.7,0.7,0.8,0.8,0.9,0.9,1.0,1.1];
const BANC_MF1 = [0.5,0.5,0.6,0.6,0.5,0.5,0.5,0.4,0.4,0.4,0.4,0.3,0.3,0.3,0.3,0.3,0.2,0.2,0.2,0.2,0.2];
const BANC_MF5 = [1.0,1.2,1.4,1.5,1.6,1.8,1.8,1.7,1.6,1.6,1.5,1.5,1.5,1.4,1.5,1.5,1.5,1.5,1.4,1.4,1.4];
const BANC_MF10 = [1.0,1.1,1.2,1.3,1.4,1.5,1.6,1.6,1.6,1.7,1.7,1.7,1.6,1.6,1.7,1.7,1.6,1.6,1.6,1.6,1.6];

const MEANDRE_MEAS = [0,0,0.1,0.2,0.3,0.3,0.4,0.4,0.5];
const MEANDRE_HIND = [0,0,0.1,0.1,0.1,0.2,0.2,0.2,0.2,0.2,0.3,0.3,0.3,0.3,0.3,0.3,0.4];
const MEANDRE_MF1 = [0.4,0.4,0.4,0.3,0.3,0.3,0.3,0.3,0.3,0.3,0.3,0.3,0.3,0.3,0.3,0.3,0.3,0.3,0.3,0.3,0.3];
const MEANDRE_MF5 = [0.4,0.4,0.4,0.4,0.4,0.4,0.4,0.4,0.4,0.4,0.4,0.4,0.4,0.4,0.4,0.4,0.4,0.4,0.4,0.4,0.4];
const MEANDRE_MF10 = [0.4,0.4,0.5,0.5,0.5,0.5,0.5,0.5,0.5,0.5,0.5,0.5,0.5,0.5,0.5,0.5,0.5,0.5,0.5,0.5,0.5];

const ZONE_MEAS = [4.6,-0.4,-0.4,-1.4,-2.4,-0.2,-3.0,-4.4,-5.0];
const ZONE_HIND = [[2009.0,0],[2009.2,1.0],[2009.6,1.0],[2009.9,0.4],[2010.25,1.2],[2010.6,0.6],[2011.0,0.8],[2011.3,0.2],[2011.7,-0.2],[2011.85,-0.6],[2012.1,0.4],[2012.4,-0.8],[2013.0,-1.2],[2013.3,-0.6],[2013.8,-1.4],[2014.65,-2.0],[2015.5,-2.6],[2016.3,-3.2],[2016.7,-3.0],[2017.0,-3.0]];
const ZONE_MF1 = [[2017.0,-3.0],[2017.2,-0.6],[2017.45,-2.0],[2017.75,-2.6],[2018.15,-2.0],[2018.55,-2.8],[2019.0,-3.6],[2019.5,-2.8],[2020.1,-4.0],[2020.5,-4.4],[2021.0,-5.2],[2021.5,-4.6],[2022.0,-5.0],[2022.5,-5.6],[2023.0,-6.0],[2023.5,-5.6],[2024.0,-5.4],[2024.5,-6.2],[2025.0,-7.0],[2025.5,-6.4],[2026.0,-6.8],[2026.7,-7.4]];
const ZONE_MF5 = [[2017.0,-3.0],[2017.3,-1.8],[2017.6,-2.2],[2017.9,-1.4],[2018.4,0.4],[2018.7,0.2],[2019.0,-0.2],[2019.7,-1.2],[2020.25,-2.0],[2020.6,-2.6],[2021.0,-3.6],[2021.5,-4.2],[2022.0,-4.8],[2022.5,-5.2],[2023.0,-5.2],[2023.2,-4.0],[2023.6,-4.2],[2024.2,-4.6],[2025.0,-5.6],[2025.5,-6.2],[2026.0,-6.8],[2026.7,-7.6]];
const ZONE_MF10 = [[2017.0,-3.2],[2017.45,-2.8],[2018.0,-2.4],[2018.5,-2.2],[2019.0,-1.2],[2019.5,-0.8],[2020.05,-0.6],[2020.1,0.6],[2020.15,-0.4],[2020.5,-0.2],[2021.0,-0.4],[2021.5,-0.6],[2022.0,-1.0],[2022.5,-1.6],[2023.0,-2.4],[2023.5,-3.2],[2024.2,-4.0],[2025.0,-5.2],[2025.5,-6.0],[2026.0,-6.8],[2026.7,-7.6]];

const PNT_MEAS = [0,-1.0,-1.2,0.5,-1.4,-2.2,-3.6,-3.8,-4.0];
const PNT_HIND = [0,-0.4,-0.8,-1.2,-1.6,-2.0,-2.4,-2.7,-2.9,-3.1,-3.2,-3.3,-3.4,-3.5,-3.6,-3.6,-3.7];
const PNT_MF1 = [-3.0,-3.6,-4.1,-4.5,-4.8,-5.0,-5.1,-5.2,-5.3,-5.4,-5.5,-5.6,-5.7,-5.9,-6.0,-6.1,-6.3,-6.4,-6.5,-6.7,-6.8];
const PNT_MF5 = [-2.8,-3.1,-3.4,-3.5,-3.6,-3.7,-3.8,-3.8,-3.9,-3.9,-4.0,-4.1,-4.1,-4.2,-4.3,-4.4,-4.5,-4.5,-4.6,-4.7,-4.8];
const PNT_MF10 = [-2.8,-3.0,-3.2,-3.3,-3.5,-3.7,-3.9,-4.0,-4.1,-4.2,-4.3,-4.4,-4.5,-4.5,-4.6,-4.6,-4.6,-4.6,-4.7,-4.7,-4.7];

// ---------- styling ----------
const C_HIND = '#000000', C_MF1 = '#0072BD', C_MF5 = '#D95319', C_MF10 = '#EDB120', C_MEAS = '#3f9a3f';
const FONT = '"Liberation Sans", Arial, sans-serif';
const TXT = '#262626', GRID = '#e4e4e4';

function pts(series, grid) {
  if (grid) return grid.map((t, i) => ({x: t, y: series[i]}));
  return series.map(p => ({x: p[0], y: p[1]}));
}
function sampled(values, start, step) {
  return values.map((v, i) => ({x: start + i * step, y: v}));
}
function line(data, color, width, order) {
  return {data, borderColor: color, backgroundColor: color, borderWidth: width, showLine: true,
          pointRadius: 0, order, borderJoinStyle: 'round'};
}

const framePlugin = {
  id: 'frame',
  beforeDatasetsDraw(chart, _a, opt) {
    if (!opt.zero) return;
    const {ctx, chartArea: a} = chart;
    const py = Math.round(chart.scales.y.getPixelForValue(0)) + 0.5;
    ctx.save();
    ctx.strokeStyle = '#1e1e1e'; ctx.lineWidth = 1;
    ctx.beginPath(); ctx.moveTo(a.left, py); ctx.lineTo(a.right, py); ctx.stroke();
    ctx.restore();
  },
  afterDatasetsDraw(chart, _a, opt) {
    const {ctx, chartArea: a, scales: {x, y}} = chart;
    ctx.save();
    if (opt.meas) {
      ctx.strokeStyle = C_MEAS; ctx.lineWidth = 1.3;
      opt.meas.t.forEach((t, i) => {
        const v = opt.meas.v[i], e = opt.meas.e;
        const px = x.getPixelForValue(t), py = y.getPixelForValue(v);
        const pHi = y.getPixelForValue(v + e), pLo = y.getPixelForValue(v - e);
        ctx.beginPath();
        ctx.moveTo(px, pLo); ctx.lineTo(px, pHi);
        ctx.moveTo(px - 6, pLo); ctx.lineTo(px + 6, pLo);
        ctx.moveTo(px - 6, pHi); ctx.lineTo(px + 6, pHi);
        ctx.moveTo(px - 5.5, py); ctx.lineTo(px + 5.5, py);
        ctx.stroke();
      });
    }
    const L = Math.round(a.left) + 0.5, T = Math.round(a.top) + 0.5;
    const R = Math.round(a.right) + 0.5, B = Math.round(a.bottom) + 0.5;
    ctx.strokeStyle = '#868686'; ctx.lineWidth = 1;
    ctx.strokeRect(L, T, R - L, B - T);
    ctx.strokeStyle = '#4a4a4a';
    ctx.beginPath();
    x.ticks.forEach(tk => {
      const px = Math.round(x.getPixelForValue(tk.value)) + 0.5;
      ctx.moveTo(px, B); ctx.lineTo(px, B - 5); ctx.moveTo(px, T); ctx.lineTo(px, T + 5);
    });
    y.ticks.forEach(tk => {
      const py = Math.round(y.getPixelForValue(tk.value)) + 0.5;
      ctx.moveTo(L, py); ctx.lineTo(L + 5, py); ctx.moveTo(R, py); ctx.lineTo(R - 5, py);
    });
    ctx.stroke();
    if (opt.title) {
      ctx.fillStyle = '#111';
      ctx.font = '23px ' + FONT;
      ctx.textAlign = 'left'; ctx.textBaseline = 'middle';
      ctx.fillText(opt.title, a.left + 3, y.getPixelForValue(opt.titleAt) + 1);
    }
    if (opt.tag) {
      ctx.fillStyle = '#111';
      ctx.font = '21px Lato, "Open Sans", sans-serif';
      ctx.textAlign = 'right'; ctx.textBaseline = 'middle';
      ctx.fillText(opt.tag, opt.tagRight, y.getPixelForValue(opt.tagAt));
    }
    ctx.restore();
  }
};

// box: plot-area rectangle in page pixels
function panel(box, datasets, o) {
  const padT = o.padT || 3, padR = 3, padB = o.xh ? 0 : (o.padB || 3);
  const W = box.w + o.yw + padR, H = box.h + padT + (o.xh || 0) + padB;
  const div = document.createElement('div');
  div.className = 'panel';
  div.style.left = (box.left - o.yw) + 'px';
  div.style.top = (box.top - padT) + 'px';
  div.style.width = W + 'px'; div.style.height = H + 'px';
  const cv = document.createElement('canvas');
  cv.width = W; cv.height = H;
  div.appendChild(cv);
  document.body.appendChild(div);
  o.frame.tagRight = o.yw + box.w - (o.tagInset || 20);
  new Chart(cv, {
    type: 'scatter',
    data: {datasets},
    plugins: [framePlugin],
    options: {
      responsive: false, animation: false, devicePixelRatio: 1, events: [],
      layout: {autoPadding: false, padding: {left: 0, top: padT, right: padR, bottom: padB}},
      plugins: {legend: {display: false}, tooltip: {enabled: false}, frame: o.frame},
      scales: {
        x: {
          type: 'linear', min: X_MIN, max: X_MAX,
          afterBuildTicks: s => { s.ticks = YEAR_TICKS.map(v => ({value: v})); },
          afterFit: s => { s.height = o.xh || 0; s.paddingLeft = 0; s.paddingRight = 0; },
          grid: {color: GRID, drawTicks: false, lineWidth: 1},
          border: {display: false},
          ticks: {display: !!o.xh, autoSkip: false, minRotation: 45, maxRotation: 45,
                  font: {family: FONT, size: 20}, color: TXT, padding: 5, labelOffset: 13,
                  callback: v => String(v)}
        },
        y: {
          type: 'linear', min: o.ymin, max: o.ymax,
          afterBuildTicks: s => { s.ticks = o.yticks.map(v => ({value: v})); },
          afterFit: s => { s.width = o.yw; s.paddingTop = 0; s.paddingBottom = 0; },
          grid: {color: GRID, drawTicks: false, lineWidth: 1},
          border: {display: false},
          ticks: {font: {family: FONT, size: 21}, color: TXT, padding: 8, callback: v => String(v)}
        }
      }
    }
  });
}

// ---------- (a) discharge ----------
panel({left: 97, top: 58, w: 1008, h: 124}, [
  line(pts(Q_HIND), C_HIND, 1.8, 4),
  line(pts(Q_MF1), C_MF1, 1.6, 3),
  line(pts(Q_MF5), C_MF5, 1.6, 2),
  line(pts(Q_MF10), C_MF10, 3.2, 1)
], {yw: 70, ymin: 0, ymax: 2000, yticks: Q_TICKS, padT: 14, padB: 14, tagInset: 20,
    frame: {tag: '(a)', tagAt: 1600}});

// ---------- (b) wave height ----------
panel({left: 97, top: 204, w: 1008, h: 123}, [
  line(sampled(HS_HIND, HS_HIND_START, HS_STEP), C_HIND, 1, 4),
  line(sampled(HS_MF1, HS_FORE_START, HS_STEP), C_MF1, 1, 3),
  line(sampled(HS_MF5, HS_FORE_START, HS_STEP), C_MF5, 1, 2),
  line(sampled(HS_MF10, HS_FORE_START, HS_STEP), C_MF10, 1, 1)
], {yw: 70, ymin: 0, ymax: 4, yticks: HS_TICKS, padT: 14, xh: 60, tagInset: 20,
    frame: {tag: '(b)', tagAt: 3.2}});

// ---------- (c)-(l) volumes ----------
const ROW_TOP = [404, 591, 779, 966, 1153];
const COL_LEFT = [97, 631];
const SITES = [
  {name: 'Fosse Sud', tag: '(c)', meas: FOSSE_SUD_MEAS, err: 3.0, hind: FOSSE_SUD_HIND, mf1: FOSSE_SUD_MF1, mf5: FOSSE_SUD_MF5, mf10: FOSSE_SUD_MF10},
  {name: 'Ratelet', tag: '(d)', meas: RATELET_MEAS, err: 1.6, hind: RATELET_HIND, mf1: RATELET_MF1, mf5: RATELET_MF5, mf10: RATELET_MF10},
  {name: 'Kannik', tag: '(e)', tagLow: true, meas: KANNIK_MEAS, err: 2.2, hind: KANNIK_HIND, mf1: KANNIK_MF1, mf5: KANNIK_MF5, mf10: KANNIK_MF10},
  {name: 'Amfart', tag: '(f)', meas: AMFART_MEAS, err: 1.0, hind: AMFART_HIND, mf1: AMFART_MF1, mf5: AMFART_MF5, mf10: AMFART_MF10},
  {name: 'Fosse Nord av.', tag: '(g)', meas: FN_AV_MEAS, err: 1.0, hind: FN_AV_HIND, mf1: FN_AV_MF1, mf5: FN_AV_MF5, mf10: FN_AV_MF10},
  {name: 'Fosse Nord am.', tag: '(h)', meas: FN_AM_MEAS, err: 1.0, hind: FN_AM_HIND, mf1: FN_AM_MF1, mf5: FN_AM_MF5, mf10: FN_AM_MF10},
  {name: 'Banc Passe', tag: '(i)', meas: BANC_MEAS, err: 0.9, hind: BANC_HIND, mf1: BANC_MF1, mf5: BANC_MF5, mf10: BANC_MF10},
  {name: 'Meandre', tag: '(j)', meas: MEANDRE_MEAS, err: 0.9, hind: MEANDRE_HIND, mf1: MEANDRE_MF1, mf5: MEANDRE_MF5, mf10: MEANDRE_MF10},
  {name: 'Zone endig.', tag: '(k)', meas: ZONE_MEAS, err: 1.0, hind: ZONE_HIND, mf1: ZONE_MF1, mf5: ZONE_MF5, mf10: ZONE_MF10},
  {name: 'Pt Normandie-Tancarville', tag: '(l)', meas: PNT_MEAS, err: 1.0, hind: PNT_HIND, mf1: PNT_MF1, mf5: PNT_MF5, mf10: PNT_MF10}
];

SITES.forEach((s, i) => {
  const row = Math.floor(i / 2), col = i % 2;
  const series = (a, T) => Array.isArray(a[0]) ? pts(a) : pts(a, T);
  panel({left: COL_LEFT[col], top: ROW_TOP[row], w: 474, h: 167}, [
    {data: pts(s.meas, MEAS_T), showLine: false, pointStyle: 'rect', pointRadius: 7.8,
     borderColor: C_MEAS, borderWidth: 1.4, backgroundColor: 'rgba(0,0,0,0)', order: 0},
    line(series(s.hind, HIND_T), C_HIND, 2, 4),
    line(series(s.mf1, FORE_T), C_MF1, 1.3, 3),
    line(series(s.mf5, FORE_T), C_MF5, 1.3, 2),
    line(series(s.mf10, FORE_T), C_MF10, 1.3, 1)
  ], {yw: 60, ymin: -15, ymax: 25, yticks: VOL_TICKS, xh: row === 4 ? 60 : 0,
      tagInset: col === 0 ? 20 : 22,
      frame: {zero: true, title: s.name, titleAt: 20, tag: s.tag, tagAt: s.tagLow ? -10 : 18.3,
              meas: {t: MEAS_T, v: s.meas, e: s.err}}});
});
</script>

<div class="vt" style="left:25px;top:121px">Q (m<sup>3</sup>/s)</div>
<div class="vt" style="left:48px;top:266px">H<sub>s</sub> (m)</div>
<div class="vt" style="left:41px;top:862px;font-size:22px">Volume (Mm<sup>3</sup>)</div>
</body></html>
